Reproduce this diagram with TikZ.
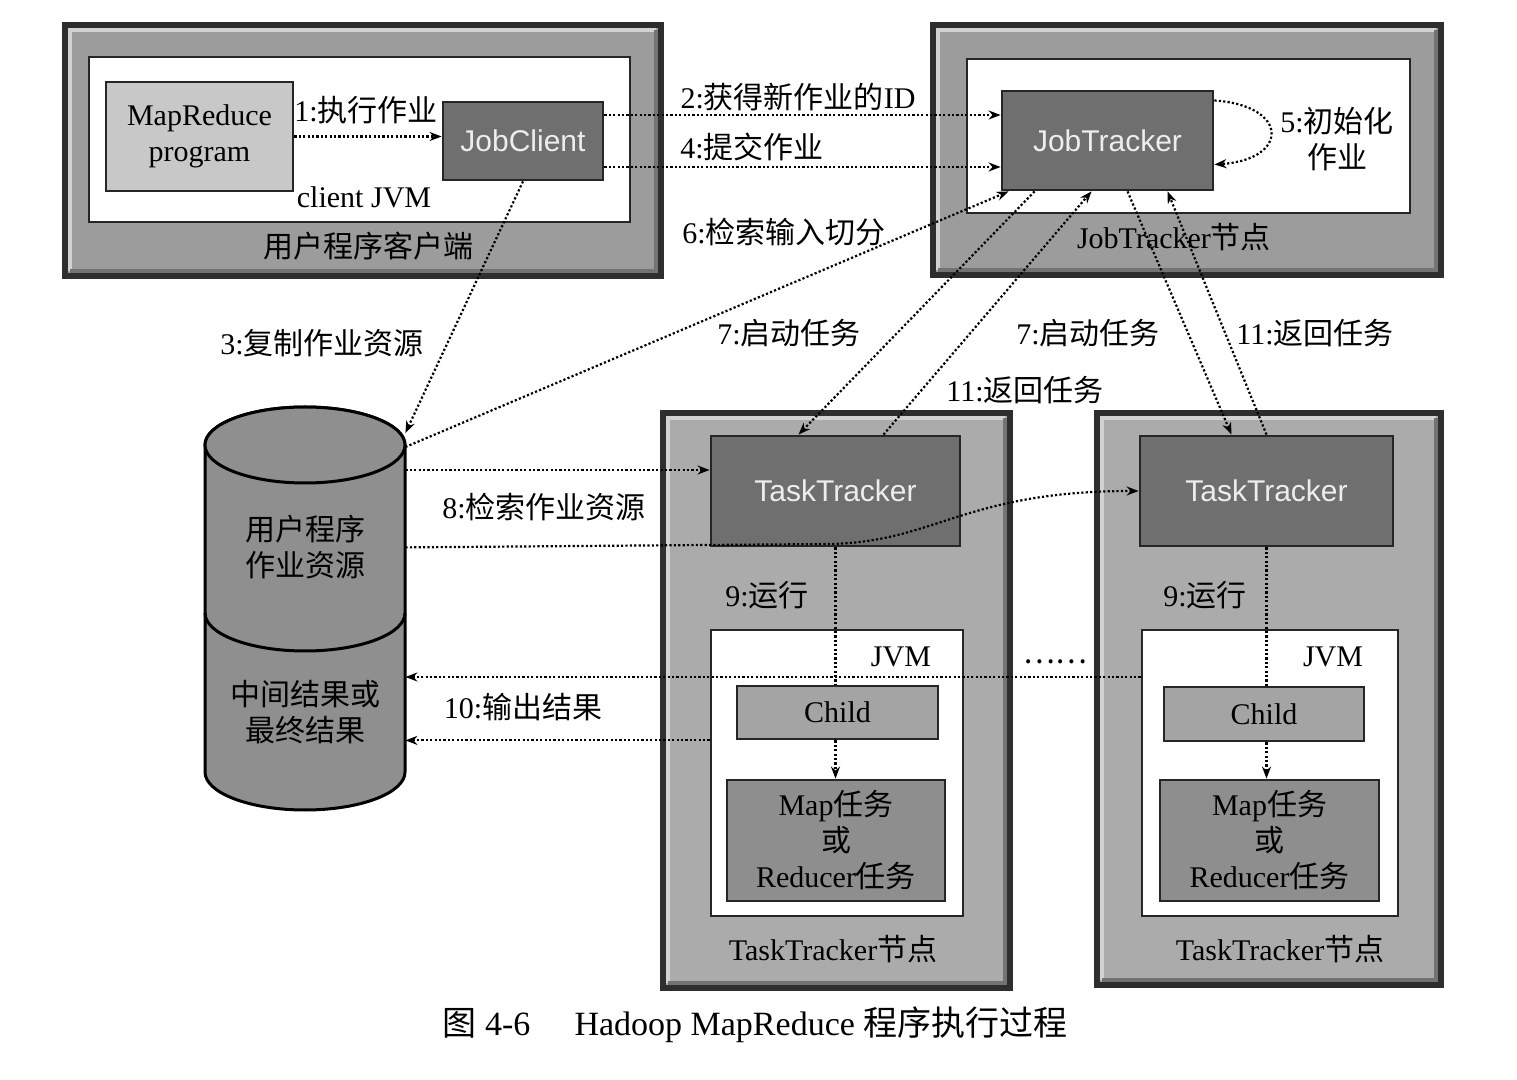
\documentclass[tikz,border=0pt]{standalone}
\usepackage{fontspec}
\setmainfont{Liberation Serif}
\newfontfamily\cjk{Noto Sans CJK SC}
\newfontfamily\arialf{Liberation Sans}
\usetikzlibrary{fit,arrows.meta,calc}
\newcommand\zh[1]{{\cjk #1}}
\definecolor{edge}{HTML}{2E2E2E}
\definecolor{outerA}{HTML}{9C9C9C}
\definecolor{outerB}{HTML}{ABABAB}
\definecolor{darkfill}{HTML}{6F6F6F}
\definecolor{lightfill}{HTML}{C8C8C8}
\definecolor{childfill}{HTML}{A4A4A4}
\definecolor{taskfill}{HTML}{8E8E8E}
\definecolor{cylfill}{HTML}{8F8F8F}
\definecolor{boxtext}{HTML}{EDEDED}
\newcommand\bevel[4]{%
  \draw[line width=2pt, white!65!gray] (#1+5,#4-5) -- (#1+5,#2+5) -- (#3-5,#2+5);
  \draw[line width=2pt, black!55] (#1+5,#4-5) -- (#3-5,#4-5) -- (#3-5,#2+5);
}
\begin{document}
\begin{tikzpicture}[x=0.5pt,y=-0.5pt,
 every node/.style={font=\fontsize{15}{18}\selectfont, inner sep=0pt},
 outerbox/.style={draw=edge, line width=2.6pt},
 whitebox/.style={draw=black!85, fill=white, line width=1.4pt},
 darkbox/.style={draw=black!85, fill=darkfill, line width=1.4pt},
 darktext/.style={text=boxtext, font=\arialf\fontsize{15}{18}\selectfont},
 lightbox/.style={draw=black!85, fill=lightfill, line width=1.4pt},
 childbox/.style={draw=black!85, fill=childfill, line width=1.4pt},
 taskbox/.style={draw=black!85, fill=taskfill, line width=1.4pt},
 lab/.style={align=center},
 dotline/.style={line width=1.1pt, dash pattern=on 1.1pt off 1.1pt},
 dotarrow/.style={dotline, -{Stealth[length=6pt,width=4.5pt]}},
]
\useasboundingbox (0,0) rectangle (1517,1080);
\fill[white] (0,0) rectangle (1517,1080);

% client side
\node[outerbox, fill=outerA, fit={(65,25) (661,276)}] (client) {};
\bevel{65}{25}{661}{276}
\node[whitebox, fit={(89,57) (630,222)}] (cjvm) {};
\node[lightbox, fit={(106,82) (293,191)}] (prog) {};
\node[lab] (progt) at (prog.center) {MapReduce\\program};
\node[darkbox, fit={(443,102) (603,180)}] (jc) {};
\node[darktext] (jct) at (jc.center) {JobClient};
\node[lab] (l1) at (366,110) {1:\zh{执行作业}};
\node[lab] (lcj) at (364,197) {client JVM};
\node[lab] (lclient) at (368,246) {\zh{用户程序客户端}};

% jobtracker
\node[outerbox, fill=outerA, fit={(933,25) (1441,275)}] (jtn) {};
\bevel{933}{25}{1441}{275}
\node[whitebox, fit={(967,59) (1410,213)}] (jtw) {};
\node[darkbox, fit={(1002,91) (1213,190)}] (jt) {};
\node[darktext] (jtt) at (jt.center) {JobTracker};
\node[lab] (l5) at (1337,139) {5:\zh{初始化}\\\zh{作业}};
\node[lab] (ljtn) at (1174,237) {JobTracker\zh{节点}};

% tasktracker 1
\node[outerbox, fill=outerB, fit={(663,413) (1010,988)}] (ttn1) {};
\bevel{663}{413}{1010}{988}
\node[darkbox, fit={(711,436) (960,546)}] (tt1) {};
\node[darktext] (tt1t) at (tt1.center) {TaskTracker};
\node[whitebox, fit={(711,630) (963,916)}] (jvm1) {};
\node[childbox, fit={(737,686) (938,739)}] (ch1) {};
\node (ch1t) at (ch1.center) {Child};
\node[taskbox, fit={(727,780) (945,901)}] (mp1) {};
\node[lab] (mp1t) at (mp1.center) {Map\zh{任务}\\\zh{或}\\Reducer\zh{任务}};
\node[lab] (j1) at (901,657) {JVM};
\node[lab] (r1) at (767,595) {9:\zh{运行}};
\node[lab] (tn1) at (833,949) {TaskTracker\zh{节点}};

% tasktracker 2
\node[outerbox, fill=outerB, fit={(1097,413) (1441,985)}] (ttn2) {};
\bevel{1097}{413}{1441}{985}
\node[darkbox, fit={(1140,436) (1393,546)}] (tt2) {};
\node[darktext] (tt2t) at (tt2.center) {TaskTracker};
\node[whitebox, fit={(1142,630) (1398,916)}] (jvm2) {};
\node[childbox, fit={(1164,687) (1364,741)}] (ch2) {};
\node (ch2t) at (ch2.center) {Child};
\node[taskbox, fit={(1160,780) (1379,901)}] (mp2) {};
\node[lab] (mp2t) at (mp2.center) {Map\zh{任务}\\\zh{或}\\Reducer\zh{任务}};
\node[lab] (j2) at (1333,657) {JVM};
\node[lab] (r2) at (1205,595) {9:\zh{运行}};
\node[lab] (tn2) at (1280,949) {TaskTracker\zh{节点}};

% storage cylinder
\path[fill=cylfill, draw=black, line width=1.5pt] (205,445) -- (205,772)
  arc[start angle=180, end angle=0, x radius=100, y radius=38] -- (405,445)
  arc[start angle=0, end angle=-180, x radius=100, y radius=38] -- cycle;
\draw[fill=cylfill, line width=1.5pt] (305,445) ellipse [x radius=100, y radius=38];
\draw[line width=1.5pt] (205,613) arc[start angle=180, end angle=0, x radius=100, y radius=38];
\node[fit={(205,407) (405,810)}] (db) {};
\node[lab] (dbt1) at (305,547) {\zh{用户程序}\\\zh{作业资源}};
\node[lab] (dbt2) at (305,712) {\zh{中间结果或}\\\zh{最终结果}};

% labels of the connectors
\node[lab] (l2) at (798,97) {2:\zh{获得新作业的}ID};
\node[lab] (l4) at (752,147) {4:\zh{提交作业}};
\node[lab] (l6) at (784,232) {6:\zh{检索输入切分}};
\node[lab] (l3) at (322,343) {3:\zh{复制作业资源}};
\node[lab] (l7a) at (789,333) {7:\zh{启动任务}};
\node[lab] (l7b) at (1088,333) {7:\zh{启动任务}};
\node[lab] (l11b) at (1315,333) {11:\zh{返回任务}};
\node[lab] (l11a) at (1025,390) {11:\zh{返回任务}};
\node[lab] (l8) at (544,507) {8:\zh{检索作业资源}};
\node[lab] (l10) at (523,707) {10:\zh{输出结果}};
\node (dots) at (1055,662) {\zh{……}};

% connectors
\draw[dotarrow] (prog.east) -- (prog.east -| jc.west);
\coordinate (c2) at ([yshift=13pt]jc.east);
\coordinate (c4) at ([yshift=-13pt]jc.east);
\draw[dotarrow] (c2) -- (c2 -| jt.west);
\draw[dotarrow] (c4) -- (c4 -| jt.west);
\draw[dotarrow] (jc.south) -- ([yshift=87.75pt]db.east);
\draw[dotarrow] ([yshift=80.75pt]db.east) -- ([xshift=4pt]jt.south west);
\draw[dotarrow] ([yshift=20pt]jt.east) .. controls +(75,5) and +(75,-5) .. ([yshift=-12pt]jt.east);
\draw[dotarrow] ([xshift=17pt]jt.south west) -- ([xshift=-18.5pt]tt1.north);
\draw[dotarrow] ([xshift=24pt]tt1.north) -- ([xshift=-8pt]jt.south);
\draw[dotarrow] ([xshift=10pt]jt.south) -- ([xshift=-17.5pt]tt2.north);
\draw[dotarrow] (tt2.north) -- ([xshift=30pt]jt.south);
\coordinate (c8) at ([yshift=10.5pt]tt1.west);
\draw[dotarrow] (c8 -| db.east) -- (c8);
\draw[dotarrow] (tt1.south -| db.east) -- (830,544) .. controls (935,542) and (965,491) .. (tt2.west);
\coordinate (c10) at ([yshift=48pt]jvm2.west);
\draw[dotarrow] (c10) -- (c10 -| db.east);
\draw[dotarrow] (ch1.south -| jvm1.west) -- (ch1.south -| db.east);
\draw[dotline] (tt1.south) -- (tt1.south |- ch1.north);
\draw[dotarrow] (tt1.south |- ch1.south) -- (tt1.south |- mp1.north);
\draw[dotline] (tt2.south) -- (tt2.south |- ch2.north);
\draw[dotarrow] (tt2.south |- ch2.south) -- (tt2.south |- mp2.north);

% caption
\node[font=\fontsize{17}{20}\selectfont] (cap) at (755,1025) {\zh{图} 4-6\hspace{1.3em}Hadoop MapReduce \zh{程序执行过程}};
\end{tikzpicture}
\end{document}
